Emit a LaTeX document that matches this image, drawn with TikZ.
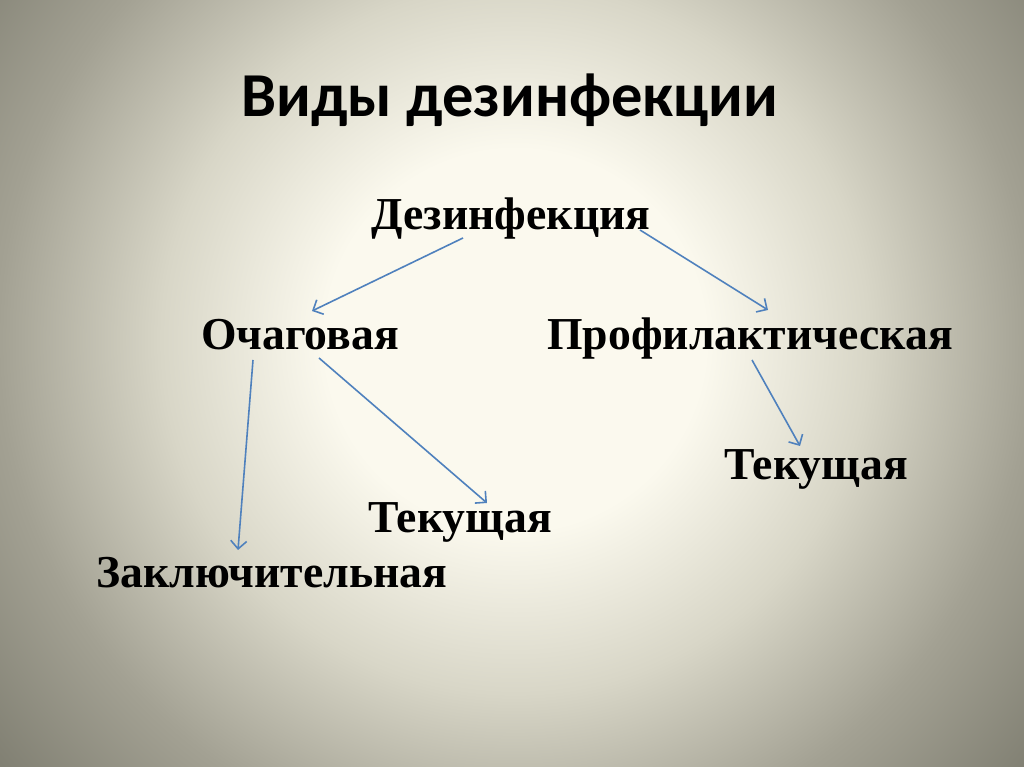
\documentclass[tikz,border=0pt]{standalone}
\usepackage{fontspec}
\setmainfont{Liberation Serif}
\newfontfamily\headfont{Carlito}
\usetikzlibrary{arrows.meta}
\definecolor{bgin}{HTML}{FBF9EE}
\definecolor{bgmid}{HTML}{D8D6C7}
\definecolor{bgdark}{HTML}{A3A193}
\definecolor{bgout}{HTML}{7E7D70}
\definecolor{linkblue}{HTML}{4F81BD}
\pgfdeclareradialshading{slideglow}{\pgfpoint{0bp}{0bp}}{color(0bp)=(bgin); color(7bp)=(bgin); color(13bp)=(bgmid); color(19bp)=(bgdark); color(25bp)=(bgout); color(50bp)=(bgout)}
\tikzset{>={Straight Barb[length=8pt,width=16pt]}, % open arrow heads
link/.style={->, draw=linkblue, line width=1.6pt}, % the blue connectors
term/.style={font=\fontsize{45.7}{46}\selectfont\bfseries, anchor=base, inner sep=0pt}, % every word of the tree
}

\begin{document}
\begin{tikzpicture}[x=1pt, y=1pt]
    \useasboundingbox (0,0) rectangle (1024,767);
    \begin{scope}
      \clip (0,0) rectangle (1024,767);
      \shade[shading=slideglow] (515,427) circle (680);
    \end{scope}
    \node[anchor=base, inner sep=0pt, font=\headfont\fontsize{62.5}{63}\selectfont\bfseries] (title) at (510,650) {Виды дезинфекции};
    \node[term] (dez) at (511,537) {Дезинфекция};
    \node[term] (och) at (300,417) {Очаговая};
    \node[term] (prof) at (750,417) {Профилактическая};
    \node[term] (tekp) at (816,287) {Текущая};
    \node[term] (teko) at (460,234) {Текущая};
    \node[term] (zakl) at (272,179) {Заключительная};
    \draw[link] ([shift={(-48,-8)}]dez.base) -- ([shift={(12,39)}]och.base);
    \draw[link] ([shift={(129,0)}]dez.base) -- ([shift={(18,40)}]prof.base);
    \draw[link] ([shift={(-47,-10)}]och.base) -- ([shift={(-34,38)}]zakl.base);
    \draw[link] ([shift={(19,-8)}]och.base) -- ([shift={(27,30)}]teko.base);
    \draw[link] ([shift={(2,-10)}]prof.base) -- ([shift={(-16,34)}]tekp.base);
  \end{tikzpicture}
\end{document}
